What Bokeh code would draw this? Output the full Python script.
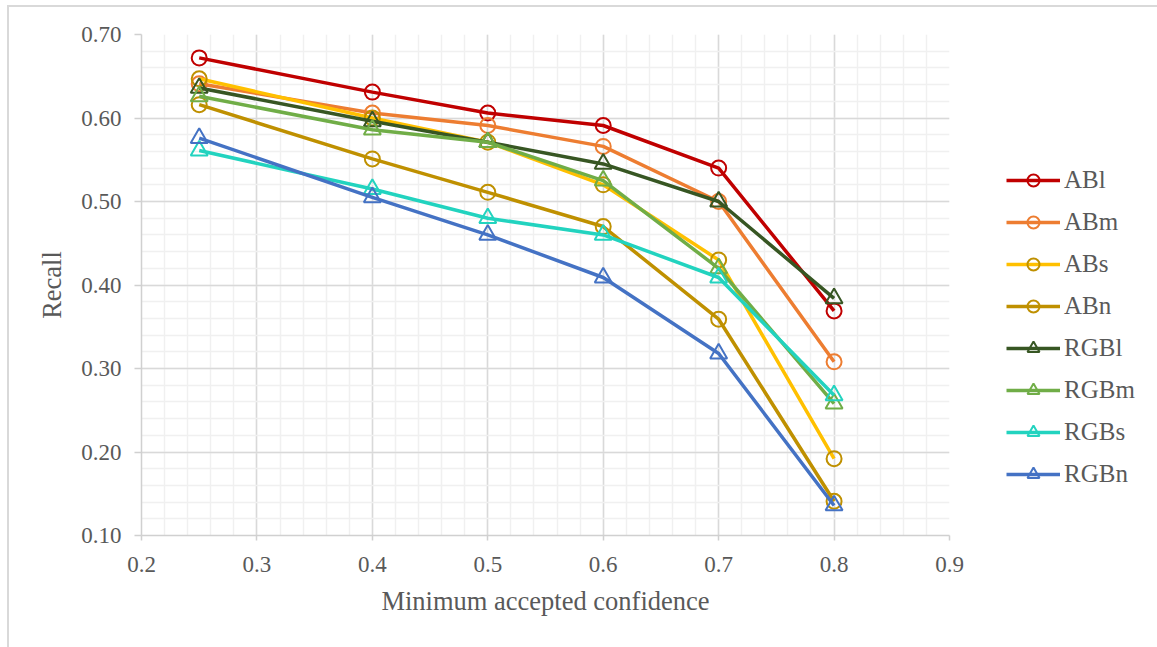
from bokeh.plotting import figure
from bokeh.models import Range1d, FixedTicker, NumeralTickFormatter, Legend, LegendItem
from bokeh.embed import file_html
from bokeh.resources import INLINE

# Minimum accepted confidence thresholds
confidence = [0.25, 0.4, 0.5, 0.6, 0.7, 0.8]

# Recall per detector variant
abl = [0.672, 0.631, 0.606, 0.591, 0.540, 0.369]
abm = [0.641, 0.606, 0.591, 0.566, 0.500, 0.308]
abs_ = [0.647, 0.600, 0.571, 0.520, 0.430, 0.192]
abn = [0.616, 0.551, 0.511, 0.470, 0.359, 0.141]
rgbl = [0.636, 0.596, 0.571, 0.545, 0.500, 0.384]
rgbm = [0.626, 0.586, 0.571, 0.525, 0.420, 0.258]
rgbs = [0.561, 0.515, 0.480, 0.460, 0.409, 0.268]
rgbn = [0.576, 0.505, 0.460, 0.409, 0.318, 0.136]

series_names = ["ABl", "ABm", "ABs", "ABn", "RGBl", "RGBm", "RGBs", "RGBn"]
series_values = [abl, abm, abs_, abn, rgbl, rgbm, rgbs, rgbn]
line_colors = ["#C00000", "#ED7D31", "#FFC000", "#BF9000",
               "#375623", "#70AD47", "#22D3BF", "#4472C4"]
marker_colors = ["#C00000", "#ED7D31", "#BF9000", "#BF9000",
                 "#375623", "#70AD47", "#22D3BF", "#4472C4"]
markers = ["circle"] * 4 + ["triangle"] * 4

x_ticks = [0.2, 0.3, 0.4, 0.5, 0.6, 0.7, 0.8, 0.9]
y_ticks = [0.1, 0.2, 0.3, 0.4, 0.5, 0.6, 0.7]
x_minor = [round(0.2 + 0.02 * i, 2) for i in range(36)]
y_minor = [round(0.1 + 0.02 * i, 2) for i in range(31)]

FONT = "Liberation Serif"
TEXT = "#595959"

p = figure(
    frame_width=808, frame_height=501,
    x_range=Range1d(0.2, 0.9), y_range=Range1d(0.1, 0.7),
    output_backend="svg", toolbar_location=None,
    min_border_left=132, min_border_top=27, min_border_bottom=112, min_border_right=208,
    margin=(5, 0, 0, 7),
    styles={"border-left": "2px solid #D9D9D9", "border-top": "2px solid #D9D9D9"},
)
p.outline_line_color = None
p.background_fill_color = "white"
p.border_fill_color = "white"

p.xaxis.ticker = FixedTicker(ticks=x_ticks, minor_ticks=x_minor)
p.yaxis.ticker = FixedTicker(ticks=y_ticks, minor_ticks=y_minor)
p.xaxis.formatter = NumeralTickFormatter(format="0.0")
p.yaxis.formatter = NumeralTickFormatter(format="0.00")

for ax in (p.xaxis, p.yaxis):
    ax.axis_line_color = "#D0D0D0"
    ax.axis_line_width = 1.5
    ax.major_tick_line_color = "#D0D0D0"
    ax.major_tick_line_width = 1.5
    ax.major_tick_in = 0
    ax.minor_tick_line_color = None
    ax.major_label_text_font = FONT
    ax.major_label_text_font_size = "23px"
    ax.major_label_text_color = TEXT
    ax.axis_label_text_font = FONT
    ax.axis_label_text_font_size = "26.5px"
    ax.axis_label_text_color = TEXT
    ax.axis_label_text_font_style = "normal"
    ax.axis_label_standoff = 11

p.xaxis.major_tick_out = 5
p.yaxis.major_tick_out = 7
p.xaxis.major_label_standoff = 16
p.yaxis.major_label_standoff = 13
p.xaxis.axis_label = "Minimum accepted confidence"
p.yaxis.axis_label = "Recall"

for g in (p.xgrid, p.ygrid):
    g.grid_line_color = "#D9D9D9"
    g.grid_line_width = 1.5
    g.minor_grid_line_color = "#F0F0F0"
    g.minor_grid_line_width = 1.5
p.xgrid.ticker = p.xaxis.ticker
p.ygrid.ticker = p.yaxis.ticker

items = []
for name, vals, lc, mc, mk in zip(series_names, series_values, line_colors, marker_colors, markers):
    r_line = p.line(confidence, vals, line_color=lc, line_width=3.5)
    r_mark = p.scatter(confidence, vals, marker=mk, size=15 if mk == "circle" else 17,
                       line_color=mc, line_width=2, fill_color=None)
    items.append(LegendItem(label=name, renderers=[r_line, r_mark]))

legend = Legend(items=items, location=(57, 46))
legend.glyph_width = 54
legend.glyph_height = 30
legend.label_height = 30
legend.spacing = 12
legend.padding = 0
legend.margin = 0
legend.label_standoff = 4
legend.border_line_color = None
legend.background_fill_alpha = 0
legend.label_text_font = FONT
legend.label_text_font_size = "25px"
legend.label_text_color = TEXT
p.add_layout(legend, "right")

open("out.html", "w").write(file_html(p, INLINE))
